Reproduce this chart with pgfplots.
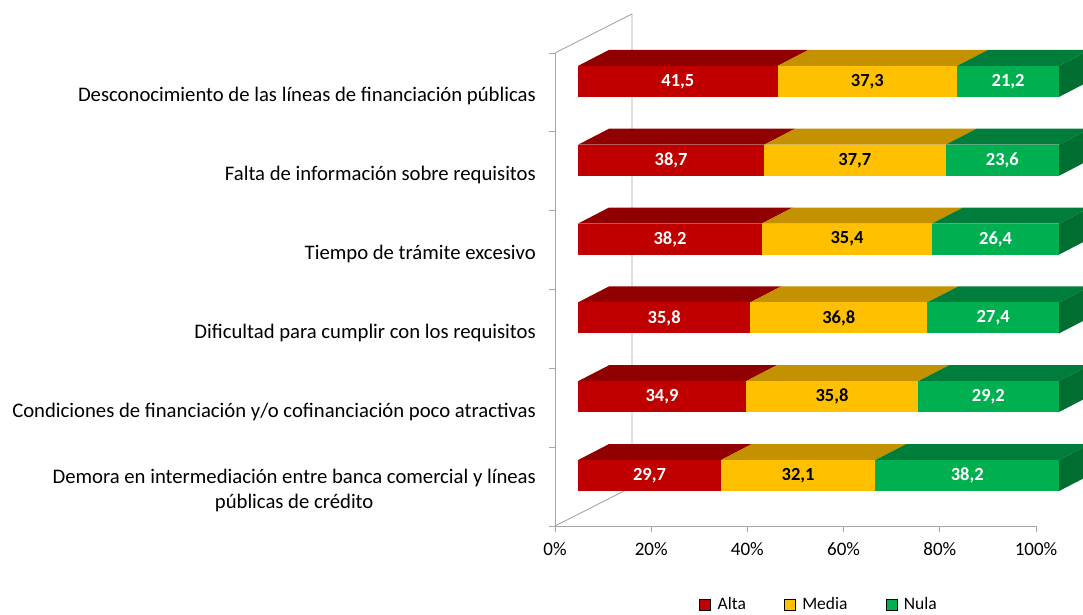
\documentclass[border=0pt]{standalone}
\usepackage{fontspec}
\setmainfont{Carlito}
\usepackage{pgfplots}
\pgfplotsset{compat=1.18}
\definecolor{altaF}{HTML}{C00000}
\definecolor{altaT}{HTML}{900000}
\definecolor{mediaF}{HTML}{FFC000}
\definecolor{mediaT}{HTML}{C49100}
\definecolor{nulaF}{HTML}{00B050}
\definecolor{nulaT}{HTML}{007D3A}
\definecolor{nulaS}{HTML}{006E30}
\definecolor{wall}{HTML}{A6A6A6}

\def\ox{4.8}\def\oy{0.14}\def\hh{0.1965}\def\dX{6.43}\def\dY{0.203}

\pgfplotsset{
  face/.style={draw=none, forget plot, mark=none},
  valbase/.style={draw=none, mark=none, forget plot, point meta=explicit,
    nodes near coords={\pgfmathprintnumber[fixed,fixed zerofill,precision=1,use comma,assume math mode=true]{\pgfplotspointmeta}},
    every node near coord/.append style={anchor=center, inner sep=0pt, font=\fontsize{18.5}{22}\selectfont\bfseries}},
  valw/.style={valbase, every node near coord/.append style={text=white}},
  valk/.style={valbase, every node near coord/.append style={text=black}},
}

% #1 category index (0 = bottom), #2 Alta, #3 Media, #4 Nula
\newcommand\barrow[4]{%
 \pgfmathsetmacro\yl{#1+\oy-\hh}%
 \pgfmathsetmacro\yh{#1+\oy+\hh}%
 \pgfmathsetmacro\ym{#1+\oy}%
 \pgfmathsetmacro\ylt{\yl+\dY}%
 \pgfmathsetmacro\yht{\yh+\dY}%
 \pgfmathsetmacro\xa{\ox}%
 \pgfmathsetmacro\xb{\ox+#2}%
 \pgfmathsetmacro\xc{\ox+#2+#3}%
 \pgfmathsetmacro\xd{\ox+#2+#3+#4}%
 \pgfmathsetmacro\xat{\xa+\dX}%
 \pgfmathsetmacro\xbt{\xb+\dX}%
 \pgfmathsetmacro\xct{\xc+\dX}%
 \pgfmathsetmacro\xdt{\xd+\dX}%
 \pgfmathsetmacro\ma{\ox+#2/2}%
 \pgfmathsetmacro\mb{\ox+#2+#3/2}%
 \pgfmathsetmacro\mc{\ox+#2+#3+#4/2}%
 \edef\tmp{%
  \noexpand\addplot[face,fill=altaT] coordinates {(\xa,\yh) (\xb,\yh) (\xbt,\yht) (\xat,\yht)};
  \noexpand\addplot[face,fill=mediaT] coordinates {(\xb,\yh) (\xc,\yh) (\xct,\yht) (\xbt,\yht)};
  \noexpand\addplot[face,fill=nulaT] coordinates {(\xc,\yh) (\xd,\yh) (\xdt,\yht) (\xct,\yht)};
  \noexpand\addplot[face,fill=nulaS] coordinates {(\xd,\yl) (\xdt,\ylt) (\xdt,\yht) (\xd,\yh)};
  \noexpand\addplot[face,fill=altaF] coordinates {(\xa,\yl) (\xb,\yl) (\xb,\yh) (\xa,\yh)};
  \noexpand\addplot[face,fill=mediaF] coordinates {(\xb,\yl) (\xc,\yl) (\xc,\yh) (\xb,\yh)};
  \noexpand\addplot[face,fill=nulaF] coordinates {(\xc,\yl) (\xd,\yl) (\xd,\yh) (\xc,\yh)};
  \noexpand\addplot[valw] coordinates {(\ma,\ym) [#2]};
  \noexpand\addplot[valk] coordinates {(\mb,\ym) [#3]};
  \noexpand\addplot[valw] coordinates {(\mc,\ym) [#4]};
 }\tmp}

\begin{document}
\begin{tikzpicture}
\path[use as bounding box] (0,0) rectangle (1083pt,615pt);
\begin{axis}[
  at={(555pt,89pt)}, anchor=south west,
  scale only axis, width=481pt, height=473pt,
  xmin=0, xmax=100, ymin=-0.5, ymax=5.5, clip=false,
  axis x line*=bottom, axis y line*=left,
  axis line style={-, draw=wall, line width=0.9pt},
  xtick={0,20,...,100},
  xticklabels={0\%,20\%,40\%,60\%,80\%,100\%},
  ytick={0,...,5},
  yticklabels={{Demora en intermediación entre banca comercial y líneas\\públicas de crédito},
    {Condiciones de financiación y/o cofinanciación poco atractivas},
    {Dificultad para cumplir con los requisitos},
    {Tiempo de trámite excesivo},
    {Falta de información sobre requisitos},
    {Desconocimiento de las líneas de financiación públicas}},
  minor ytick={-0.5,0.5,...,5.5},
  tick align=outside, major tick length=6pt, minor tick length=6pt,
  major x tick style={draw=wall, line width=0.9pt},
  major y tick style={draw=none},
  minor y tick style={draw=wall, line width=0.9pt},
  yticklabel style={align=center, inner sep=0pt, xshift=-13pt, yshift=-4pt, font=\fontsize{20.7}{25}\selectfont},
  xticklabel style={inner sep=0pt, yshift=-10.5pt, font=\fontsize{19}{22}\selectfont},
  legend columns=3,
  legend image code/.code={\fill[#1] (0pt,-5.5pt) rectangle (11pt,5.5pt);},
  legend style={at={(0.549,-0.166)}, anchor=center, draw=none, fill=none,
    font=\fontsize{17.5}{21}\selectfont,
    /tikz/every odd column/.append style={column sep=5pt},
    /tikz/every even column/.append style={column sep=36pt}},
]
\addplot[draw=wall, line width=0.9pt, mark=none, forget plot] coordinates {(0,5.5) (16,5.995) (16,-0.005) (0,-0.5)};
\barrow{5}{41.5}{37.3}{21.2}
\barrow{4}{38.7}{37.7}{23.6}
\barrow{3}{38.2}{35.4}{26.4}
\barrow{2}{35.8}{36.8}{27.4}
\barrow{1}{34.9}{35.8}{29.2}
\barrow{0}{29.7}{32.1}{38.2}
\addlegendimage{fill=altaF}\addlegendentry{Alta}
\addlegendimage{fill=mediaF}\addlegendentry{Media}
\addlegendimage{fill=nulaF}\addlegendentry{Nula}
\end{axis}
\end{tikzpicture}
\end{document}
